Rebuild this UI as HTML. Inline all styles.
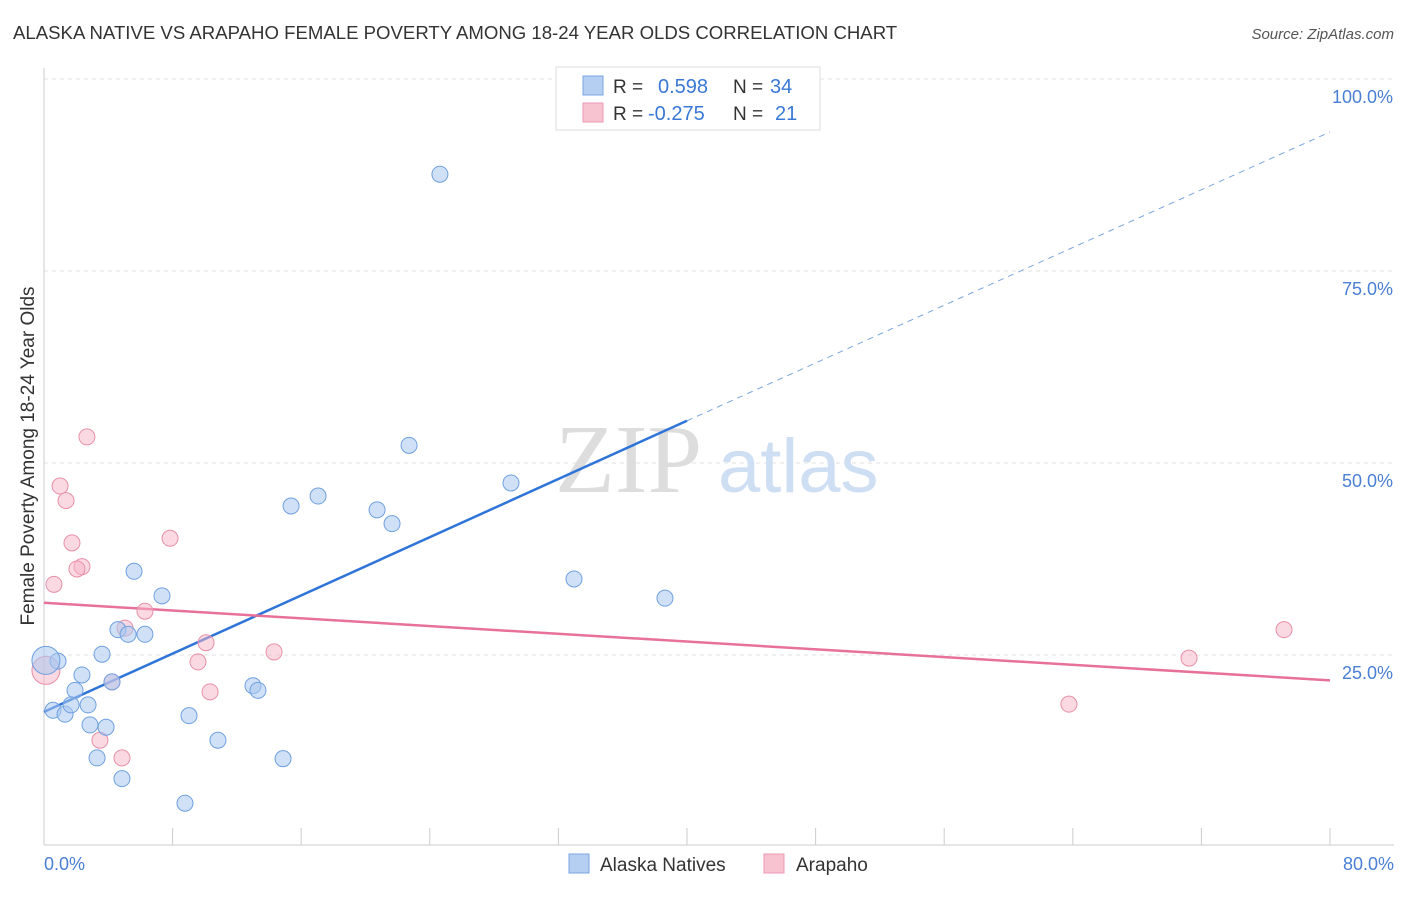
<!DOCTYPE html>
<html><head><meta charset="utf-8"><style>
body{margin:0;background:#fff;font-family:"Liberation Sans",sans-serif;}
svg text{font-family:"Liberation Sans",sans-serif;}
</style></head><body>
<svg id="chart" width="1406" height="892" xmlns="http://www.w3.org/2000/svg">
<text x="13" y="39" font-size="18.6" fill="#333">ALASKA NATIVE VS ARAPAHO FEMALE POVERTY AMONG 18-24 YEAR OLDS CORRELATION CHART</text>
<text x="1394" y="39" font-size="15" fill="#555" text-anchor="end" font-style="italic">Source: ZipAtlas.com</text>
<g id="grid"></g>
<g>
<text x="555" y="492" font-size="98" fill="#ddd" style="font-family:'Liberation Serif',serif">ZIP</text>
<text x="718" y="492" font-size="76" fill="#cfdff3">atlas</text>
</g>
<line x1="44" y1="845" x2="1394" y2="845" stroke="#ccc"/>
<line x1="44" y1="68" x2="44" y2="845" stroke="#ccc"/>
<g id="ticks"></g>
<g id="lines"></g>
<g id="points"></g>
<text transform="translate(34,456) rotate(-90)" font-size="19" fill="#333" text-anchor="middle">Female Poverty Among 18-24 Year Olds</text>
<text x="44" y="870" font-size="18" fill="#4a7fd4">0.0%</text>
<text x="1394" y="870" font-size="18" fill="#4a7fd4" text-anchor="end">80.0%</text>
<g>
<rect x="556" y="67" width="264" height="63" fill="#fff" stroke="#ddd"/>
<rect x="583" y="76" width="20" height="19" fill="#b5cff2" stroke="#7aa6e0"/>
<rect x="583" y="103" width="20" height="19" fill="#f7c3d1" stroke="#eb9ab2"/>
<text x="613" y="93" font-size="19" fill="#333">R = </text><text x="658" y="93" font-size="20" fill="#3a78d6">0.598</text>
<text x="733" y="93" font-size="19" fill="#333">N = </text><text x="770" y="93" font-size="20" fill="#3a78d6">34</text>
<text x="613" y="120" font-size="19" fill="#333">R = </text><text x="648" y="120" font-size="20" fill="#3a78d6">-0.275</text>
<text x="733" y="120" font-size="19" fill="#333">N = </text><text x="775" y="120" font-size="20" fill="#3a78d6">21</text>
</g>
<g>
<rect x="569" y="854" width="20" height="19" fill="#b5cff2" stroke="#7aa6e0"/>
<text x="600" y="871" font-size="19" fill="#333">Alaska Natives</text>
<rect x="764" y="854" width="20" height="19" fill="#f7c3d1" stroke="#eb9ab2"/>
<text x="796" y="871" font-size="19" fill="#333">Arapaho</text>
</g>
</svg>
<script>
const yTicks=[25,50,75,100];
const yTickLabels=["25.0%","50.0%","75.0%","100.0%"];
const xTicks=[0,8,16,24,32,40,48,56,64,72,80];
const blueX=[24.63,22.71,29.05,17.05,15.37,20.72,21.65,32.97,38.63,5.60,7.34,4.60,5.23,6.28,3.61,0.87,0.12,2.36,1.93,4.23,13.0,13.31,0.56,1.31,1.68,2.74,2.86,3.86,9.02,10.82,3.30,14.87,4.85,8.77];
const blueY=[87.6,52.3,47.4,45.7,44.4,43.9,42.1,34.9,32.4,35.9,32.7,28.3,27.7,27.7,25.1,24.2,24.3,22.4,20.4,21.5,21.0,20.4,17.8,17.3,18.5,18.5,15.9,15.6,17.1,13.9,11.6,11.5,8.9,5.7];
const pinkX=[2.67,1.0,1.37,1.74,2.36,2.05,0.62,7.84,6.28,5.04,10.08,9.58,14.31,4.23,10.33,3.48,4.85,63.76,71.23,77.14,0.12];
const pinkY=[53.4,47.0,45.1,39.6,36.5,36.2,34.2,40.2,30.7,28.5,26.6,24.1,25.4,21.5,20.2,13.9,11.6,18.6,24.6,28.3,23.0];
const blueLineX=[0,40,80], blueLineY=[17.6,55.5,93.1];
const pinkLineX=[0,80], pinkLineY=[31.8,21.7];
const NS="http://www.w3.org/2000/svg";
const sx=v=>44+v*1286/80, sy=v=>847-v*7.68;
function mk(t,a,p){const e=document.createElementNS(NS,t);for(const k in a)e.setAttribute(k,a[k]);p.appendChild(e);return e;}
const grid=document.getElementById('grid');
yTicks.forEach((t,i)=>{
 const l=mk('line',{x1:44,x2:1394,y1:sy(t),y2:sy(t),stroke:'#e2e2e2','stroke-dasharray':'4,4'},grid);
 
 
 const tx=mk('text',{x:1393,y:sy(t)+24,'font-size':18,fill:'#4a7fd4','text-anchor':'end'},grid);
 tx.textContent=yTickLabels[i];
 
 
});
const ticks=document.getElementById('ticks');
xTicks.forEach(t=>{
 const l=mk('line',{x1:sx(t),x2:sx(t),y1:828,y2:845,stroke:'#ccc'},ticks);
 
 
});
const lines=document.getElementById('lines');
let a=mk('line',{x1:sx(blueLineX[0]),y1:sy(blueLineY[0]),x2:sx(blueLineX[1]),y2:sy(blueLineY[1]),stroke:'#2f74d8','stroke-width':2.5},lines);


a=mk('line',{x1:sx(blueLineX[1]),y1:sy(blueLineY[1]),x2:sx(blueLineX[2]),y2:sy(blueLineY[2]),stroke:'#7aa6e0','stroke-width':1,'stroke-dasharray':'6,5'},lines);


a=mk('line',{x1:sx(pinkLineX[0]),y1:sy(pinkLineY[0]),x2:sx(pinkLineX[1]),y2:sy(pinkLineY[1]),stroke:'#e8719a','stroke-width':2.5},lines);


const pts=document.getElementById('points');
pinkX.forEach((x,i)=>{
 const r=(x<0.5)?14:8;
 const c=mk('circle',{cx:sx(x),cy:sy(pinkY[i]),r:r,fill:'rgba(245,180,200,0.5)',stroke:'#e890a8','stroke-width':1},pts);
 
 
});
blueX.forEach((x,i)=>{
 const r=(x<0.5)?14:8;
 const c=mk('circle',{cx:sx(x),cy:sy(blueY[i]),r:r,fill:'rgba(170,200,240,0.55)',stroke:'#6fa0e0','stroke-width':1},pts);
 
 
});
</script>
</body></html>
